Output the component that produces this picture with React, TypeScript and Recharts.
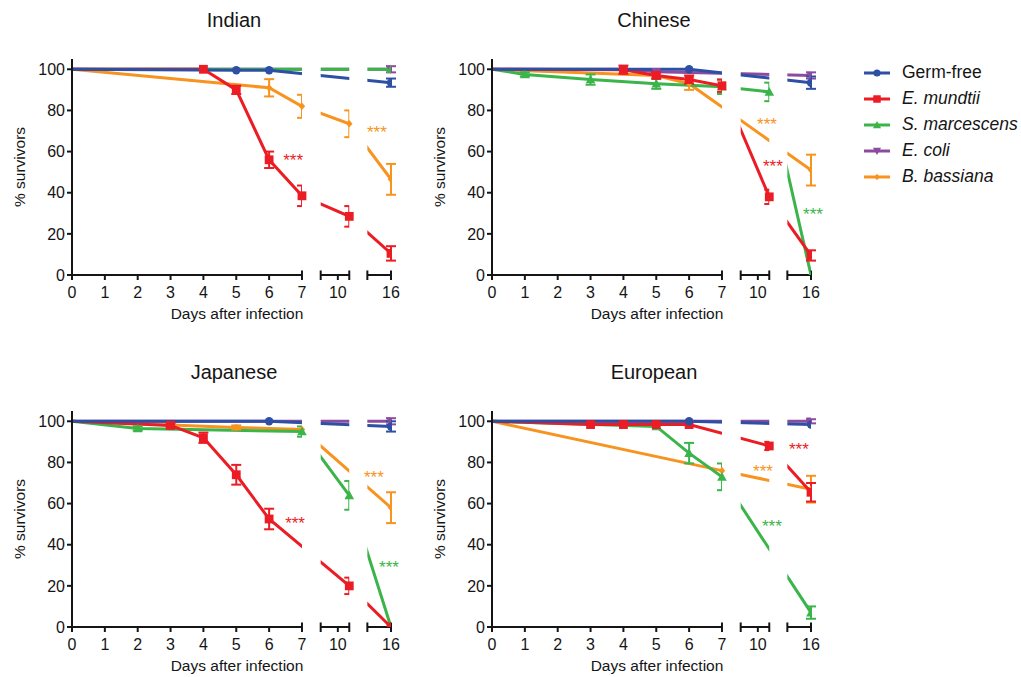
import React from 'react';
import { LineChart, Line, XAxis, YAxis, ErrorBar, ReferenceArea, ReferenceLine, ReferenceDot } from 'recharts';

// [day, % survivors, error (SEM)]
type Pt = [number, number, number?];

const SERIES_NAMES = ['Germ-free', 'E. mundtii', 'S. marcescens', 'E. coli', 'B. bassiana'];
const SERIES_ITALIC = [false, true, true, true, true];
const SERIES_COLORS = ['#2d4fa4', '#ec1c24', '#3bb44a', '#8c4b9f', '#f7931e'];
const SERIES_MARKERS = ['circle', 'square', 'triangle', 'invTriangle', 'diamond'];
const DRAW_ORDER = [4, 3, 2, 1, 0];

const PANEL_TITLES = ['Indian', 'Chinese', 'Japanese', 'European'];
const X_TITLE = 'Days after infection';
const Y_TITLE = '% survivors';

const X_TICK_DAYS = [0, 1, 2, 3, 4, 5, 6, 7, 10, 16];
const Y_TICKS = [0, 20, 40, 60, 80, 100];
// broken x axis: day ranges and where each piece sits along the axis (axis units)
const X_SEGMENT_DAYS = [[0, 7], [8.5, 11], [14, 16]];
const X_SEGMENT_AXIS = [[0, 7], [7.57, 8.44], [8.99, 9.71]];

// ---- Indian
const indianGermFree: Pt[] = [[0, 100], [5, 99.5], [6, 99.5], [16, 93.5, 2]];
const indianMundtii: Pt[] = [[0, 100], [4, 100], [5, 90, 2], [6, 56, 4], [7, 38.5, 5], [11, 28.5, 5], [16, 10.5, 3.5]];
const indianMarcescens: Pt[] = [[0, 100], [16, 100]];
const indianColi: Pt[] = [[0, 100], [16, 100, 1.5]];
const indianBassiana: Pt[] = [[0, 100], [6, 91, 4.2], [7, 82, 5.6], [11, 73.5, 6.5], [16, 46.5, 7.5]];
const indianStars = [[1, 6.73, 57.8], [4, 9.28, 71.4]];

// ---- Chinese
const chineseGermFree: Pt[] = [[0, 100], [6, 100], [16, 93.5, 3]];
const chineseMundtii: Pt[] = [[0, 100], [4, 99.8, 2], [5, 97, 1.5], [6, 95, 2], [7, 92, 3], [11, 38, 3.5], [16, 9.5, 2.5]];
const chineseMarcescens: Pt[] = [[0, 100], [1, 97.5, 1], [3, 95, 2.5], [5, 93, 2.5], [7, 91.5, 3.5], [11, 89, 4.5], [16, 0]];
const chineseColi: Pt[] = [[0, 100], [4, 100], [5, 98.8], [16, 97, 1.5]];
const chineseBassiana: Pt[] = [[0, 100], [5, 97], [6, 93, 3], [16, 51, 7.5]];
const chineseStars = [[4, 8.37, 75.2], [1, 8.55, 54.9], [2, 9.77, 31.6]];

// ---- Japanese
const japaneseGermFree: Pt[] = [[0, 100], [6, 100], [16, 97.5, 2.5]];
const japaneseMundtii: Pt[] = [[0, 100], [3, 98, 1], [4, 92, 2.5], [5, 74, 4.8], [6, 52.5, 5], [11, 20, 4], [16, 0]];
const japaneseMarcescens: Pt[] = [[0, 100], [2, 96.5, 1], [7, 95, 2.5], [11, 64, 7], [16, 0]];
const japaneseColi: Pt[] = [[0, 100], [16, 100, 1.5]];
const japaneseBassiana: Pt[] = [[0, 100], [5, 97, 1], [7, 96], [16, 58, 7.5]];
const japaneseStars = [[4, 9.19, 74.6], [1, 6.79, 52.3], [2, 9.65, 30.9]];

// ---- European
const europeanGermFree: Pt[] = [[0, 100], [6, 100], [16, 98.4]];
const europeanMundtii: Pt[] = [[0, 100], [3, 98.4], [4, 98.4], [5, 98.4], [6, 98.4], [11, 88, 2], [16, 65.5, 4.5]];
const europeanMarcescens: Pt[] = [[0, 100], [5, 97.5], [6, 84.5, 5], [7, 73, 6.5], [16, 7, 3]];
const europeanColi: Pt[] = [[0, 100], [16, 100, 1]];
const europeanBassiana: Pt[] = [[0, 100], [7, 76], [16, 67, 6.5]];
const europeanStars = [[1, 9.34, 88.2], [4, 8.25, 77.5], [2, 8.52, 50.8]];

const PANELS = [
  { series: [indianGermFree, indianMundtii, indianMarcescens, indianColi, indianBassiana], stars: indianStars },
  { series: [chineseGermFree, chineseMundtii, chineseMarcescens, chineseColi, chineseBassiana], stars: chineseStars },
  { series: [japaneseGermFree, japaneseMundtii, japaneseMarcescens, japaneseColi, japaneseBassiana], stars: japaneseStars },
  { series: [europeanGermFree, europeanMundtii, europeanMarcescens, europeanColi, europeanBassiana], stars: europeanStars },
];

const FONT = '"Liberation Sans", Arial, Helvetica, sans-serif';
const INK = '#151515';

function toAxis(day: number): number {
  for (let k = 0; k < X_SEGMENT_DAYS.length; k++) {
    const [d0, d1] = X_SEGMENT_DAYS[k];
    const [a0, a1] = X_SEGMENT_AXIS[k];
    if (day >= d0 - 1e-9 && day <= d1 + 1e-9) return a0 + ((day - d0) / (d1 - d0)) * (a1 - a0);
  }
  return NaN;
}

const X_MAX = toAxis(16);
const CAP_DAYS: number[] = [];
X_SEGMENT_DAYS.forEach(([d0, d1], k) => {
  if (k > 0) CAP_DAYS.push(d0);
  CAP_DAYS.push(d1);
});
const X_TICKS = Array.from(new Set([...X_TICK_DAYS, ...CAP_DAYS].map(toAxis))).sort((a, b) => a - b);
const xTickFormat = (u: number) => {
  const d = X_TICK_DAYS.find((day) => Math.abs(toAxis(day) - u) < 1e-6);
  return d === undefined ? '' : String(d);
};

function markerShape(kind: string, cx: number, cy: number, color: string, s = 1) {
  switch (kind) {
    case 'circle':
      return <circle cx={cx} cy={cy} r={4.2 * s} fill={color} />;
    case 'square':
      return <rect x={cx - 4.4 * s} y={cy - 4.4 * s} width={8.8 * s} height={8.8 * s} fill={color} />;
    case 'triangle':
      return <polygon points={`${cx},${cy - 4.8 * s} ${cx + 4.8 * s},${cy + 3.8 * s} ${cx - 4.8 * s},${cy + 3.8 * s}`} fill={color} />;
    case 'invTriangle':
      return <polygon points={`${cx},${cy + 4.8 * s} ${cx + 4.8 * s},${cy - 3.8 * s} ${cx - 4.8 * s},${cy - 3.8 * s}`} fill={color} />;
    default:
      return <polygon points={`${cx},${cy - 3.8 * s} ${cx + 3.2 * s},${cy} ${cx},${cy + 3.8 * s} ${cx - 3.2 * s},${cy}`} fill={color} />;
  }
}

function makeDot(kind: string, color: string) {
  return (p: any) => {
    const { cx, cy, payload, index } = p;
    if (cx == null || cy == null || !payload || payload.day === 0) return <g key={`m${index}`} />;
    return <g key={`m${index}`}>{markerShape(kind, cx, cy, color)}</g>;
  };
}

function Panel({ idx, left, top }: { idx: number; left: number; top: number }) {
  const panel = PANELS[idx];
  const lines = DRAW_ORDER.map((i) => ({
    i,
    data: panel.series[i].map(([day, v, e]) => ({ x: toAxis(day), day, v, e })),
  }));
  const gaps = X_SEGMENT_DAYS.slice(1).map((seg, k) => [toAxis(X_SEGMENT_DAYS[k][1]), toAxis(seg[0])]);
  return (
    <div style={{ position: 'absolute', left, top, width: 420, height: 340 }}>
      <LineChart width={420} height={340} margin={{ top: 59, right: 29, bottom: 0, left: 0 }}>
        <XAxis
          type="number"
          dataKey="x"
          domain={[0, X_MAX]}
          ticks={X_TICKS}
          interval={0}
          tickFormatter={xTickFormat}
          axisLine={false}
          tickLine={{ stroke: INK, strokeWidth: 2 }}
          tickSize={5}
          tickMargin={7}
          tick={{ fill: INK, fontSize: 16, fontFamily: FONT }}
          height={65}
          allowDataOverflow
        />
        <YAxis
          type="number"
          domain={[0, 105]}
          ticks={Y_TICKS}
          interval={0}
          width={72}
          axisLine={{ stroke: INK, strokeWidth: 2 }}
          tickLine={{ stroke: INK, strokeWidth: 2 }}
          tickSize={5}
          tickMargin={2}
          tick={{ fill: INK, fontSize: 16, fontFamily: FONT }}
          allowDataOverflow
        />
        {lines.map((l) => (
          <Line
            key={`b${l.i}`}
            data={l.data}
            dataKey="v"
            type="linear"
            stroke={SERIES_COLORS[l.i]}
            strokeWidth={3}
            dot={false}
            activeDot={false}
            isAnimationActive={false}
            zIndex={400}
          />
        ))}
        {gaps.map(([a, b], k) => (
          <ReferenceArea key={`g${k}`} x1={a} x2={b} y1={0} y2={105} fill="#ffffff" fillOpacity={1} stroke="none" zIndex={450} ifOverflow="visible" />
        ))}
        {X_SEGMENT_DAYS.map(([d0, d1], k) => (
          <ReferenceLine
            key={`ax${k}`}
            segment={[{ x: toAxis(d0), y: 0 }, { x: toAxis(d1), y: 0 }]}
            stroke={INK}
            strokeWidth={2}
            zIndex={460}
            ifOverflow="visible"
          />
        ))}
        {CAP_DAYS.map((d, k) => (
          <ReferenceLine
            key={`cap${k}`}
            segment={[{ x: toAxis(d), y: 0 }, { x: toAxis(d), y: 2.2 }]}
            stroke={INK}
            strokeWidth={2}
            zIndex={460}
            ifOverflow="visible"
          />
        ))}
        {lines.map((l) => (
          <Line
            key={`t${l.i}`}
            data={l.data}
            dataKey="v"
            type="linear"
            stroke="none"
            strokeWidth={0}
            dot={makeDot(SERIES_MARKERS[l.i], SERIES_COLORS[l.i])}
            activeDot={false}
            isAnimationActive={false}
            zIndex={550}
          >
            <ErrorBar dataKey="e" direction="y" width={5} strokeWidth={2} stroke={SERIES_COLORS[l.i]} />
          </Line>
        ))}
        {panel.stars.map(([si, u, v], k) => (
          <ReferenceDot
            key={`s${k}`}
            x={u}
            y={v}
            r={0}
            ifOverflow="visible"
            zIndex={560}
            shape={(p: any) => (
              <text x={p.cx} y={p.cy} dy="0.57em" textAnchor="middle" fontSize={17} fontFamily={FONT} fill={SERIES_COLORS[si]}>
                ***
              </text>
            )}
          />
        ))}
      </LineChart>
      <div style={{ position: 'absolute', left: 234, top: 20, transform: 'translate(-50%,-50%)', fontSize: 20, lineHeight: 1, fontFamily: FONT, color: INK, whiteSpace: 'nowrap' }}>
        {PANEL_TITLES[idx]}
      </div>
      <div style={{ position: 'absolute', left: 237, top: 314, transform: 'translate(-50%,-50%)', fontSize: 15.5, lineHeight: 1, fontFamily: FONT, color: INK, whiteSpace: 'nowrap' }}>
        {X_TITLE}
      </div>
      <div style={{ position: 'absolute', left: 20, top: 167, transform: 'translate(-50%,-50%) rotate(-90deg)', fontSize: 15.5, lineHeight: 1, fontFamily: FONT, color: INK, whiteSpace: 'nowrap' }}>
        {Y_TITLE}
      </div>
    </div>
  );
}

function Legend() {
  return (
    <div>
      {SERIES_NAMES.map((name, i) => (
        <div key={name} style={{ position: 'absolute', left: 864, top: 73 + i * 26 - 11, height: 22, display: 'flex', alignItems: 'center' }}>
          <svg width={26} height={12} style={{ display: 'block' }}>
            <line x1={0} y1={6} x2={26} y2={6} stroke={SERIES_COLORS[i]} strokeWidth={3} />
            {markerShape(SERIES_MARKERS[i], 13, 6, SERIES_COLORS[i], 0.85)}
          </svg>
          <span style={{ marginLeft: 12, fontSize: 17.5, fontFamily: FONT, color: INK, fontStyle: SERIES_ITALIC[i] ? 'italic' : 'normal', whiteSpace: 'nowrap', lineHeight: 1 }}>
            {name}
          </span>
        </div>
      ))}
    </div>
  );
}

export default function App() {
  return (
    <div style={{ position: 'absolute', left: 0, top: 0, width: 1021, height: 677, background: '#ffffff', overflow: 'hidden' }}>
      <Panel idx={0} left={0} top={0} />
      <Panel idx={1} left={420} top={0} />
      <Panel idx={2} left={0} top={352} />
      <Panel idx={3} left={420} top={352} />
      <Legend />
    </div>
  );
}
